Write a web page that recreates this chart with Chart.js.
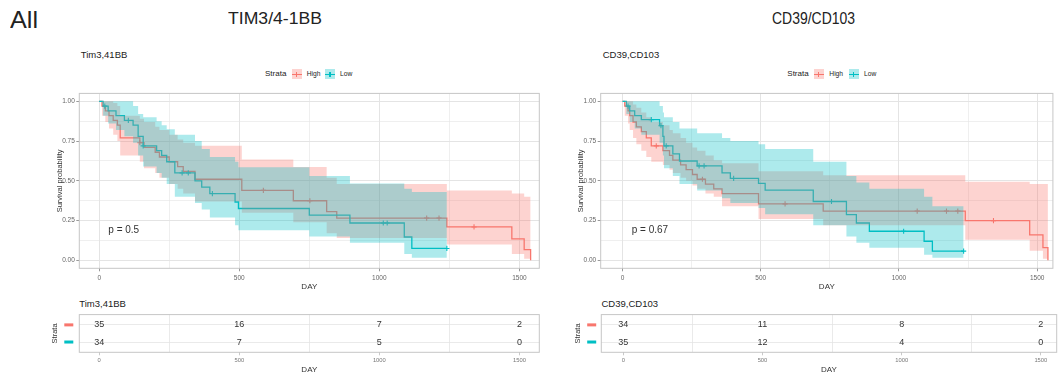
<!DOCTYPE html>
<html><head><meta charset="utf-8">
<script src="https://cdn.jsdelivr.net/npm/chart.js@4/dist/chart.umd.min.js"></script>
<style>
html,body{margin:0;padding:0;background:#fff;}
body{width:1058px;height:378px;position:relative;overflow:hidden;font-family:"Liberation Sans",Arial,sans-serif;color:#222;}
.t{position:absolute;white-space:nowrap;line-height:1;}
canvas{position:absolute;}
.key{position:absolute;width:10px;height:10px;}
.key i{position:absolute;left:0;top:4.5px;width:10px;height:1.2px;}
.key b{position:absolute;left:4.4px;top:2.5px;width:1.2px;height:5px;}
</style></head><body>

<div class="t hdr" id="hAll" style="left:10px;top:8px;font-size:24px;">All</div>
<div class="t hdr" id="hTim" style="left:228px;top:10px;font-size:17px;">TIM3/4-1BB</div>
<div class="t hdr" id="hCd" style="left:772px;top:10px;font-size:17px;">CD39/CD103</div>

<div class="t" style="left:80.7px;top:50px;font-size:9.5px;">Tim3,41BB</div>
<div class="t" style="left:602.7px;top:50px;font-size:9.5px;">CD39,CD103</div>

<div class="t" style="left:265px;top:70.3px;font-size:8px;">Strata</div>
<div class="key" style="left:291.7px;top:69.3px;background:rgba(248,118,109,0.32)"><i style="background:#F8766D"></i><b style="background:#F8766D"></b></div>
<div class="t" style="left:306.7px;top:71px;font-size:6.7px;">High</div>
<div class="key" style="left:325px;top:69.3px;background:rgba(0,191,196,0.32)"><i style="background:#00BFC4"></i><b style="background:#00BFC4"></b></div>
<div class="t" style="left:340px;top:71px;font-size:6.7px;">Low</div>

<div class="t" style="left:787.3px;top:70.3px;font-size:8px;">Strata</div>
<div class="key" style="left:813.5px;top:69.3px;background:rgba(248,118,109,0.32)"><i style="background:#F8766D"></i><b style="background:#F8766D"></b></div>
<div class="t" style="left:829.3px;top:71px;font-size:6.7px;">High</div>
<div class="key" style="left:848.5px;top:69.3px;background:rgba(0,191,196,0.32)"><i style="background:#00BFC4"></i><b style="background:#00BFC4"></b></div>
<div class="t" style="left:864px;top:71px;font-size:6.7px;">Low</div>

<canvas id="mainL" width="505" height="205" style="left:40px;top:88px"></canvas>
<canvas id="mainR" width="497" height="205" style="left:561px;top:88px"></canvas>

<div class="t" style="left:108.3px;top:225px;font-size:10px;color:#333;">p = 0.5</div>
<div class="t" style="left:631.7px;top:225px;font-size:10px;color:#333;">p = 0.67</div>

<div class="t" style="left:79.3px;top:298.5px;font-size:9.5px;">Tim3,41BB</div>
<div class="t" style="left:601.5px;top:298.5px;font-size:9.5px;">CD39,CD103</div>

<canvas id="riskL" width="505" height="70" style="left:40px;top:308px"></canvas>
<canvas id="riskR" width="497" height="70" style="left:561px;top:308px"></canvas>

<script>
// ---------------- DATA ----------------
// Tim3,41BB panel — High stratum (time, survival, lower CI, upper CI)
const timHighT  = [0, 10, 22, 35, 50, 65, 75, 145, 160, 200, 215, 250, 280, 300, 342, 509, 693, 812, 848, 1241, 1473, 1517, 1540];
const timHighS  = [1, 0.97, 0.94, 0.91, 0.88, 0.85, 0.77, 0.74, 0.71, 0.68, 0.65, 0.62, 0.59, 0.56, 0.51, 0.44, 0.375, 0.307, 0.266, 0.21, 0.135, 0.068, 0];
const timHighLo = [1, 0.91, 0.87, 0.83, 0.79, 0.75, 0.66, 0.62, 0.58, 0.55, 0.52, 0.48, 0.45, 0.42, 0.37, 0.30, 0.24, 0.17, 0.14, 0.10, 0.04, 0.01, 0];
const timHighUp = [1, 1, 1, 1, 0.99, 0.97, 0.91, 0.89, 0.87, 0.84, 0.82, 0.79, 0.76, 0.74, 0.72, 0.635, 0.587, 0.52, 0.48, 0.44, 0.42, 0.40, 0];
const timHighCens = [145, 586, 752, 1169, 1213, 1338];
// Tim3,41BB panel — Low stratum
const timLowT  = [0, 14, 32, 60, 90, 121, 139, 157, 205, 223, 241, 270, 342, 366, 395, 485, 497, 750, 895, 1089, 1116, 1241];
const timLowS  = [1, 0.97, 0.94, 0.91, 0.88, 0.85, 0.78, 0.72, 0.69, 0.66, 0.62, 0.55, 0.50, 0.46, 0.42, 0.367, 0.326, 0.284, 0.235, 0.147, 0.075, 0.075];
const timLowLo = [1, 0.91, 0.86, 0.82, 0.78, 0.74, 0.66, 0.59, 0.55, 0.52, 0.48, 0.40, 0.36, 0.32, 0.27, 0.22, 0.19, 0.15, 0.11, 0.04, 0.017, 0.017];
const timLowUp = [1, 1, 1, 1, 1, 0.97, 0.92, 0.90, 0.875, 0.85, 0.824, 0.79, 0.75, 0.70, 0.65, 0.62, 0.585, 0.53, 0.483, 0.45, 0.43, 0.43];
const timLowCens = [20, 104, 157, 296, 318, 404, 1014, 1028, 1241];

// CD39,CD103 panel — High stratum
const cdHighT  = [0, 8, 20, 26, 38, 50, 68, 86, 104, 146, 170, 182, 210, 230, 253, 270, 300, 330, 360, 492, 726, 1240, 1473, 1521, 1539];
const cdHighS  = [1, 0.97, 0.94, 0.91, 0.87, 0.84, 0.81, 0.77, 0.72, 0.69, 0.66, 0.63, 0.60, 0.57, 0.54, 0.51, 0.48, 0.45, 0.42, 0.355, 0.31, 0.25, 0.16, 0.08, 0];
const cdHighLo = [1, 0.91, 0.86, 0.82, 0.77, 0.73, 0.69, 0.65, 0.62, 0.60, 0.57, 0.55, 0.52, 0.50, 0.47, 0.45, 0.42, 0.40, 0.34, 0.26, 0.22, 0.13, 0.06, 0.01, 0];
const cdHighUp = [1, 1, 1, 1, 0.98, 0.96, 0.93, 0.90, 0.87, 0.85, 0.82, 0.80, 0.77, 0.74, 0.71, 0.69, 0.66, 0.63, 0.61, 0.56, 0.536, 0.494, 0.48, 0.48, 0];
const cdHighCens = [122, 289, 588, 1066, 1172, 1213, 1342];
// CD39,CD103 panel — Low stratum
const cdLowT  = [0, 14, 26, 44, 68, 134, 146, 150, 182, 206, 270, 360, 390, 492, 516, 690, 810, 846, 893, 1091, 1121, 1234];
const cdLowS  = [1, 0.97, 0.94, 0.91, 0.885, 0.847, 0.78, 0.72, 0.67, 0.625, 0.594, 0.55, 0.515, 0.484, 0.442, 0.37, 0.287, 0.235, 0.183, 0.12, 0.058, 0.058];
const cdLowLo = [1, 0.92, 0.87, 0.83, 0.79, 0.74, 0.66, 0.58, 0.53, 0.48, 0.44, 0.39, 0.36, 0.33, 0.29, 0.22, 0.15, 0.11, 0.08, 0.035, 0.017, 0.017];
const cdLowUp = [1, 1, 1, 1, 1, 0.97, 0.93, 0.90, 0.87, 0.83, 0.80, 0.77, 0.75, 0.73, 0.70, 0.62, 0.53, 0.49, 0.45, 0.40, 0.34, 0.34];
const cdLowCens = [20, 104, 139, 158, 277, 295, 402, 756, 1017, 1234];

// Numbers at risk
const riskTimes = [0, 500, 1000, 1500];
const timRiskHigh = [35, 16, 7, 2];
const timRiskLow  = [34, 7, 5, 0];
const cdRiskHigh  = [34, 11, 8, 2];
const cdRiskLow   = [35, 12, 4, 0];

// Axis ticks
const xTicks = [0, 250, 500, 750, 1000, 1250, 1500];
const yTicks = [0, 0.125, 0.25, 0.375, 0.5, 0.625, 0.75, 0.875, 1];

// ---------------- STYLE ----------------
const RED = '#F8766D', TEAL = '#00BFC4';
const RED_FILL = 'rgba(248,118,109,0.32)', TEAL_FILL = 'rgba(0,191,196,0.32)';
const GRID = '#e4e4e4';
const FONT = '"Liberation Sans", Arial, sans-serif';
Chart.defaults.font.family = FONT;

function pts(t, v) { return t.map((x, i) => ({x: x, y: v[i]})); }
function survAt(t, S, x) { let s = S[0]; for (let i = 0; i < t.length; i++) { if (t[i] <= x) s = S[i]; } return s; }
const isMajor = v => Math.abs(v % 500) < 1e-9;
const isMajorY = v => Math.abs(v * 4 - Math.round(v * 4)) < 1e-9;

const framePlugin = {
  id: 'frame',
  afterDraw(chart) {
    const {ctx, chartArea: a} = chart;
    ctx.save();
    ctx.strokeStyle = '#c6c6c6';
    ctx.lineWidth = 1;
    ctx.strokeRect(a.left, a.top, a.right - a.left, a.bottom - a.top);
    ctx.restore();
  }
};

function buildMain(id, hi, lo, geom) {
  const bandDS = (T, V, color, fillTo) => ({
    data: pts(T, V), stepped: 'before', borderColor: 'transparent', borderWidth: 0,
    pointRadius: 0, fill: fillTo, backgroundColor: color
  });
  const lineDS = (T, S, color) => ({
    data: pts(T, S), stepped: 'before', borderColor: color, borderWidth: 1.3, pointRadius: 0, fill: false
  });
  const censDS = (T, S, C, color) => ({
    data: C.map(c => ({x: c, y: survAt(T, S, c)})), showLine: false, pointStyle: 'cross',
    pointRadius: 2.6, borderColor: color, borderWidth: 1.1, fill: false
  });
  new Chart(document.getElementById(id), {
    type: 'line',
    data: { datasets: [
      bandDS(lo.T, lo.Up, TEAL_FILL, '+1'),
      bandDS(lo.T, lo.Lo, 'transparent', false),
      bandDS(hi.T, hi.Up, RED_FILL, '+1'),
      bandDS(hi.T, hi.Lo, 'transparent', false),
      censDS(lo.T, lo.S, lo.C, TEAL),
      censDS(hi.T, hi.S, hi.C, RED),
      lineDS(lo.T, lo.S, TEAL),
      lineDS(hi.T, hi.S, RED)
    ]},
    options: {
      responsive: false, animation: false, events: [], devicePixelRatio: 1,
      layout: { padding: { top: geom.padTop, right: geom.padRight, left: 0, bottom: 0 } },
      plugins: { legend: { display: false }, tooltip: { enabled: false } },
      scales: {
        x: {
          type: 'linear', min: geom.xMin, max: geom.xMax,
          afterBuildTicks: ax => { ax.ticks = xTicks.map(v => ({value: v})); },
          afterFit: s => { s.height = geom.xH; },
          ticks: { autoSkip: false, maxRotation: 0, padding: 3, color: '#666', font: {size: 6.5},
                   callback: v => isMajor(v) ? String(v) : '' },
          grid: { color: GRID, lineWidth: c => isMajor(c.tick.value) ? 1 : 0.6, tickLength: 3,
                  tickColor: c => isMajor(c.tick.value) ? '#999' : 'rgba(0,0,0,0)' },
          border: { display: false },
          title: { display: true, text: 'DAY', color: '#333', font: {size: 8}, padding: {top: 0, bottom: 1.5} }
        },
        y: {
          type: 'linear', min: -0.05, max: 1.05,
          afterBuildTicks: ax => { ax.ticks = yTicks.map(v => ({value: v})); },
          afterFit: s => { s.width = geom.yW; },
          ticks: { autoSkip: false, padding: 1.5, color: '#666', font: {size: 6.5},
                   callback: v => isMajorY(v) ? v.toFixed(2) : '' },
          grid: { color: GRID, lineWidth: c => isMajorY(c.tick.value) ? 1 : 0.6, tickLength: 3,
                  tickColor: c => isMajorY(c.tick.value) ? '#999' : 'rgba(0,0,0,0)' },
          border: { display: false },
          title: { display: true, text: 'Survival probability', color: '#333', font: {size: 7.5},
                   padding: {top: geom.yTitlePad, bottom: 0} }
        }
      }
    },
    plugins: [framePlugin]
  });
}

const riskTextPlugin = {
  id: 'riskText',
  afterDatasetsDraw(chart) {
    const ctx = chart.ctx;
    ctx.save();
    ctx.fillStyle = '#333';
    ctx.font = '9px ' + FONT;
    ctx.textAlign = 'center';
    ctx.textBaseline = 'middle';
    chart.data.datasets.forEach((ds, i) => {
      chart.getDatasetMeta(i).data.forEach((p, j) => { ctx.fillText(String(ds.data[j].n), p.x, p.y); });
    });
    // strata colour keys in place of y tick labels
    const ys = chart.scales.y;
    const kx = chart.options.plugins.riskText.keyX;
    [[2, RED], [1, TEAL]].forEach(([v, col]) => {
      ctx.fillStyle = col;
      ctx.fillRect(kx - 4.5, ys.getPixelForValue(v) - 1.5, 9, 3);
    });
    ctx.restore();
  }
};

function buildRisk(id, hiN, loN, geom) {
  new Chart(document.getElementById(id), {
    type: 'scatter',
    data: { datasets: [
      { data: riskTimes.map((t, i) => ({x: t, y: 2, n: hiN[i]})), pointRadius: 0 },
      { data: riskTimes.map((t, i) => ({x: t, y: 1, n: loN[i]})), pointRadius: 0 }
    ]},
    options: {
      responsive: false, animation: false, events: [], devicePixelRatio: 1,
      layout: { padding: { top: geom.padTop, right: geom.padRight, left: 0, bottom: 0 } },
      plugins: { legend: { display: false }, tooltip: { enabled: false }, riskText: { keyX: geom.keyX } },
      scales: {
        x: {
          type: 'linear', min: geom.xMin, max: geom.xMax,
          afterBuildTicks: ax => { ax.ticks = xTicks.map(v => ({value: v})); },
          afterFit: s => { s.height = geom.xH; },
          ticks: { autoSkip: false, maxRotation: 0, padding: 2, color: '#777', font: {size: 5.8},
                   callback: v => isMajor(v) ? String(v) : '' },
          grid: { color: c => isMajor(c.tick.value) ? 'rgba(0,0,0,0)' : GRID, lineWidth: 0.8, tickLength: 3,
                  tickColor: c => isMajor(c.tick.value) ? '#bbb' : 'rgba(0,0,0,0)' },
          border: { display: false },
          title: { display: true, text: 'DAY', color: '#333', font: {size: 8}, padding: {top: 0, bottom: 3} }
        },
        y: {
          type: 'linear', min: 0.4, max: 2.6,
          afterBuildTicks: ax => { ax.ticks = [1, 2].map(v => ({value: v})); },
          afterFit: s => { s.width = geom.yW; },
          ticks: { callback: () => '', font: {size: 6} },
          grid: { color: GRID, lineWidth: 0.8, tickLength: 3, tickColor: 'rgba(0,0,0,0)' },
          border: { display: false },
          title: { display: true, text: 'Strata', color: '#333', font: {size: 7.5},
                   padding: {top: geom.yTitlePad, bottom: 0} }
        }
      }
    },
    plugins: [framePlugin, riskTextPlugin]
  });
}

buildMain('mainL',
  {T: timHighT, S: timHighS, Lo: timHighLo, Up: timHighUp, C: timHighCens},
  {T: timLowT, S: timLowS, Lo: timLowLo, Up: timLowUp, C: timLowCens},
  {xMin: -71, xMax: 1571, padTop: 4.3, padRight: 5.7, xH: 24.7, yW: 39.3, yTitlePad: 15});
buildMain('mainR',
  {T: cdHighT, S: cdHighS, Lo: cdHighLo, Up: cdHighUp, C: cdHighCens},
  {T: cdLowT, S: cdLowS, Lo: cdLowLo, Up: cdLowUp, C: cdLowCens},
  {xMin: -79, xMax: 1557, padTop: 4.3, padRight: 1.3, xH: 24.7, yW: 39.7, yTitlePad: 15});

buildRisk('riskL', timRiskHigh, timRiskLow,
  {xMin: -71, xMax: 1571, padTop: 3, padRight: 5.7, xH: 25.7, yW: 39.3, yTitlePad: 10.5, keyX: 28.8});
buildRisk('riskR', cdRiskHigh, cdRiskLow,
  {xMin: -79, xMax: 1557, padTop: 3, padRight: 1.3, xH: 25.7, yW: 40.3, yTitlePad: 12.5, keyX: 30.7});

// header texts: condense to the widths they occupy in the reference
[['hAll', 28], ['hTim', 94], ['hCd', 83]].forEach(([id, w]) => {
  const el = document.getElementById(id);
  const nat = el.getBoundingClientRect().width;
  el.style.transformOrigin = 'left top';
  el.style.transform = 'scaleX(' + (w / nat) + ')';
});
</script>
</body></html>
